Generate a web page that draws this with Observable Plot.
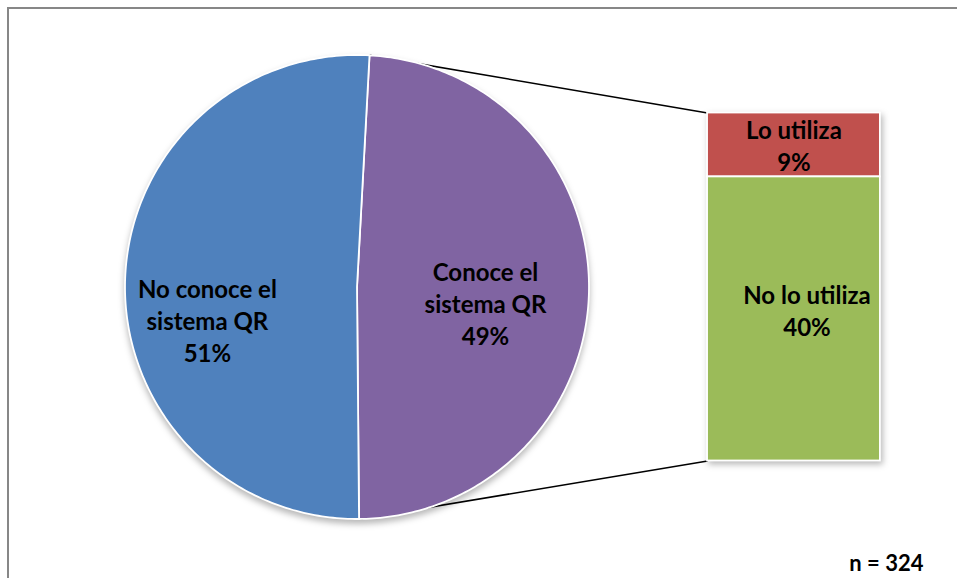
<!DOCTYPE html>
<html><head><meta charset="utf-8">
<script src="https://cdn.jsdelivr.net/npm/d3@7"></script>
<script src="https://cdn.jsdelivr.net/npm/@observablehq/plot@0.6"></script>
<style>
html,body{margin:0;padding:0;background:#fff;}
#wrap{position:relative;width:957px;height:578px;overflow:hidden;}
#border{position:absolute;left:7px;top:7px;width:1200px;height:1200px;border:2px solid #878787;box-sizing:border-box;}
#chart{position:absolute;left:0;top:0;}
</style></head>
<body><div id="wrap"><div id="border"></div><div id="chart"></div></div>
<script>
// ---- data ----
const pieLabels = ["Conoce el\nsistema QR", "No conoce el\nsistema QR"];
const pieValues = [49, 51];
const pieColors = ["#8064A2", "#4F81BD"];
const barLabels = ["Lo utiliza", "No lo utiliza"];
const barValues = [9, 40];
const barColors = ["#C0504D", "#9BBB59"];
const caption = "n = 324";

// ---- layout (unit circle coordinates: pie radius = 1) ----
const startAngle = 0.054;                 // pie rotation (radians, clockwise from top)
const barX = [1.511, 2.256];              // bar left/right
const barHalf = 0.75;                     // bar spans [-0.75, 0.75]
const pieLabelR = [0.554, 0.645];
const pieLabelDy = [13, 36];
const barLabelDx = [0, 13];
const barLabelDy = [0, -9];
const font = "Lato";

const arcs = d3.pie().sort(null).value(d => d).startAngle(startAngle).endAngle(startAngle + 2 * Math.PI)(pieValues);

// slice polygons
const slices = arcs.map((a, i) => {
  const pts = [{x: 0, y: 0}];
  const n = 200;
  for (let k = 0; k <= n; k++) {
    const t = a.startAngle + (a.endAngle - a.startAngle) * k / n;
    pts.push({x: Math.sin(t), y: Math.cos(t)});
  }
  pts.push({x: 0, y: 0});
  return pts;
});

const pieText = arcs.map((a, i) => {
  const m = (a.startAngle + a.endAngle) / 2;
  return {x: Math.sin(m) * pieLabelR[i], y: Math.cos(m) * pieLabelR[i],
          text: `${pieLabels[i]}\n${pieValues[i]}%`, dy: pieLabelDy[i]};
});

// bar segments
const barTotal = d3.sum(barValues);
const yb = d3.scaleLinear().domain([0, barTotal]).range([barHalf, -barHalf]);
let cum = 0;
const barSegs = barValues.map((v, i) => {
  const s = {y1: yb(cum), y2: yb(cum + v), fill: barColors[i],
             text: `${barLabels[i]}\n${v}%`, dx: barLabelDx[i], dy: barLabelDy[i]};
  cum += v;
  return s;
});

// connector lines
const conoce = arcs[0];
const links = [
  {x1: Math.sin(conoce.startAngle), y1: Math.cos(conoce.startAngle), x2: barX[0], y2: barHalf},
  {x1: Math.sin(conoce.endAngle), y1: Math.cos(conoce.endAngle), x2: barX[0], y2: -barHalf}
];

const textOpts = {fontFamily: font, fontWeight: "bold", fill: "#000", lineAnchor: "middle", textAnchor: "middle"};

const chart = Plot.plot({
  width: 957, height: 578,
  margin: 0,
  style: {background: "transparent", fontFamily: font, overflow: "visible"},
  x: {type: "linear", domain: [-1, 1], range: [124.5, 588.5], axis: null},
  y: {type: "linear", domain: [-1, 1], range: [518.5, 54.5], axis: null},
  marks: [
    Plot.link(links, {x1: "x1", y1: "y1", x2: "x2", y2: "y2", stroke: "#000", strokeWidth: 1.6}),
    ...slices.map((s, i) => Plot.line(s, {x: "x", y: "y", fill: pieColors[i], stroke: "#fff", strokeWidth: 1.8, strokeLinejoin: "round"})),
    Plot.rect(barSegs, {x1: barX[0], x2: barX[1], y1: "y1", y2: "y2", fill: "fill", stroke: "#fff", strokeWidth: 1.8}),
    ...pieText.map(d => Plot.text([d], {...textOpts, x: "x", y: "y", text: "text", dy: d.dy, fontSize: 24, lineHeight: 1.33})),
    ...barSegs.map(d => Plot.text([d], {...textOpts, x: (barX[0] + barX[1]) / 2, y: s => (s.y1 + s.y2) / 2, text: "text", dx: d.dx, dy: d.dy, fontSize: 24, lineHeight: 1.3})),
    Plot.text([caption], {frameAnchor: "bottom-right", textAnchor: "end", lineAnchor: "bottom", dx: -34, dy: -8, fontFamily: font, fontWeight: "bold", fontSize: 22, fill: "#000"})
  ]
});

// soft shadows like the original (group pie slices so they cast one shadow)
const lineGroups = [...chart.querySelectorAll(":scope > g[aria-label='line']")];
if (lineGroups.length) {
  const pieG = document.createElementNS("http://www.w3.org/2000/svg", "g");
  lineGroups[0].before(pieG);
  lineGroups.forEach(g => pieG.appendChild(g));
  pieG.style.filter = "drop-shadow(0px 4px 3px rgba(0,0,0,0.28))";
}
const rectG = chart.querySelector(":scope > g[aria-label='rect']");
if (rectG) rectG.style.filter = "drop-shadow(2px 3px 3px rgba(0,0,0,0.28))";

document.getElementById("chart").appendChild(chart);
</script>
</body></html>
